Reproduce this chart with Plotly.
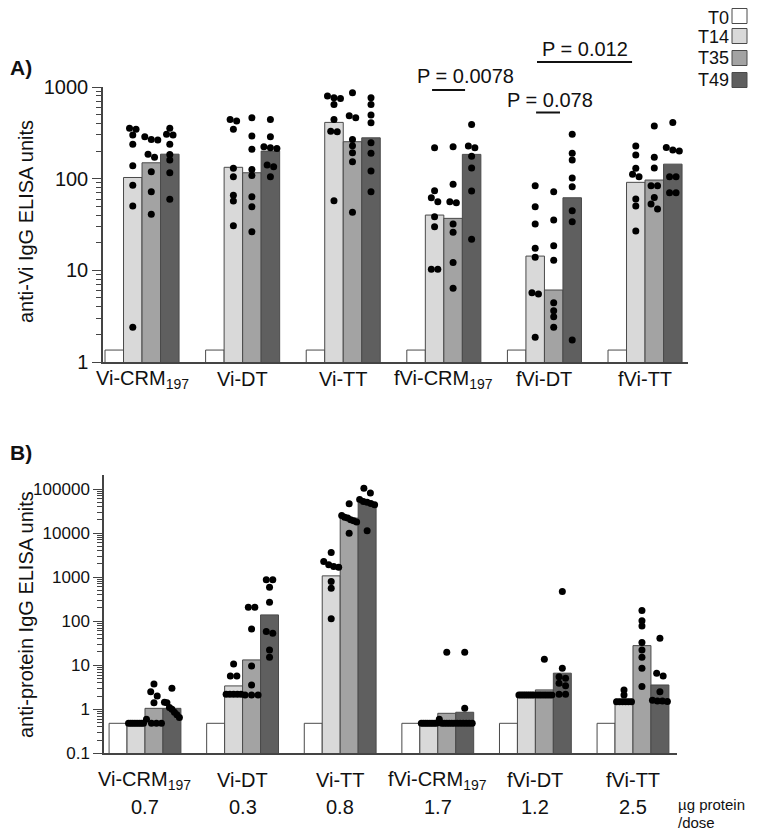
import numpy as np
import plotly.graph_objects as go

# ---------------- data ----------------
categories = ["Vi-CRM<sub>197</sub>", "Vi-DT", "Vi-TT", "fVi-CRM<sub>197</sub>", "fVi-DT", "fVi-TT"]
timepoints = ["T0", "T14", "T35", "T49"]
dose_labels = ["0.7", "0.3", "0.8", "1.7", "1.2", "2.5"]

# Panel A: anti-Vi IgG geometric means (bars)
a_t0 = [1.35, 1.35, 1.35, 1.35, 1.35, 1.35]
a_t14 = [103, 133, 411, 40.1, 14.3, 91.2]
a_t35 = [149, 116, 253, 36.9, 6.1, 96.6]
a_t49 = [185, 200, 279, 184, 61.9, 144]

# Panel A: individual animals
a_t14_pts = [
    [345, 299, 354, 237, 138, 84.5, 50.3, 2.39],
    [443, 425, 347, 130, 105, 66, 57, 30.6],
    [762, 796, 751, 646, 443, 330, 325, 57.5],
    [217, 73.8, 61.9, 56, 38.4, 29.9, 10.3, 10.3],
    [83.7, 49.4, 32, 17.4, 13.9, 5.7, 5.52, 1.86],
    [227, 181, 130, 112, 105, 60, 50.3, 26.8],
]
a_t35_pts = [
    [286, 264, 268, 185, 171, 119, 72, 40.8],
    [461, 292, 210, 126, 108, 63.5, 49.4, 26.4],
    [864, 461, 485, 268, 228, 192, 153, 42.9],
    [223, 54.6, 56, 86.7, 32, 26, 12.2, 6.36],
    [72, 35.4, 18.5, 12.9, 4.43, 3.63, 3.12, 2.39],
    [375, 171, 131, 83.7, 83.7, 62.5, 52.8, 46.6],
]
a_t49_pts = [
    [354, 299, 306, 237, 184, 160, 116, 59.5],
    [443, 286, 223, 214, 217, 141, 135, 105],
    [762, 646, 494, 407, 246, 189, 121, 72],
    [391, 217, 227, 176, 131, 73.3, 21.9],
    [306, 189, 160, 102, 81.6, 44.7, 33.9, 1.74],
    [411, 219, 200, 205, 105, 105, 70.2, 70.2],
]

# Panel B: anti-protein IgG geometric means (bars)
b_t0 = [0.48, 0.48, 0.48, 0.48, 0.48, 0.48]
b_t14 = [0.48, 3.39, 1070, 0.48, 2.11, 1.69]
b_t35 = [1.05, 13.2, 21900, 0.81, 2.75, 27.9]
b_t49 = [1.05, 139, 48100, 0.855, 6.6, 3.56]

# Panel B: individual animals
b_t14_pts = [
    [0.48, 0.48, 0.48, 0.48, 0.48, 0.48, 0.48, 0.48],
    [10.7, 5.7, 5.7, 2.19, 2.19, 2.19, 2.19, 2.19],
    [3620, 1905, 1690, 1740, 2260, 794, 562, 113],
    [0.48, 0.48, 0.48, 0.48, 0.48, 0.48, 0.48, 0.48],
    [2.11, 2.11, 2.11, 2.11, 2.11, 2.11, 2.11, 2.11],
    [2.75, 2.11, 1.49, 1.49, 1.49, 1.49, 1.49, 1.49],
]
b_t35_pts = [
    [3.76, 2.51, 2.0, 1.41, 0.59, 0.48, 0.48, 0.48],
    [208, 208, 66.8, 9.6, 3.56, 2.11, 2.11, 2.11],
    [46300, 25000, 23000, 22000, 20000, 19000, 18000, 10000],
    [19.7, 0.59, 0.48, 0.48, 0.48, 0.48, 0.48, 0.48],
    [13.7, 2.11, 2.11, 2.11, 2.11, 2.11, 2.11, 2.11],
    [174, 102, 78, 32.7, 22.3, 15.2, 8.55, 3.27],
]
b_t49_pts = [
    [3.0, 1.45, 1.4, 1.1, 1.0, 0.85, 0.75, 0.65],
    [869, 869, 593, 270, 53, 58, 22.3, 15.2],
    [105000, 82000, 58000, 52000, 50000, 47000, 44000, 11300],
    [19.7, 1.05, 0.48, 0.48, 0.48, 0.48, 0.48, 0.48],
    [471, 8.55, 5.5, 5.07, 3.9, 3.4, 2.19, 2.19],
    [41, 6.6, 5.7, 2.5, 1.6, 1.55, 1.55, 1.5],
]

p_labels = ["P = 0.0078", "P = 0.078", "P = 0.012"]

# ---------------- style / layout geometry ----------------
# the page body has an 8px margin: the figure is sized so it ends exactly at the window edge
OFF = 8
W, H = 758 - OFF, 832 - OFF
FONT = "Liberation Sans, Arial, sans-serif"
bar_colors = ["#ffffff", "#d9d9d9", "#a3a3a3", "#5f5f5f"]
edge = "#4a4a4a"
axis_col = "#444444"
BW = 0.184  # bar width in category units


def px(x):
    """screen x pixel -> paper fraction"""
    return (x - OFF) / W


def py(y):
    """screen y pixel -> paper fraction"""
    return 1 - (y - OFF) / H


# panel pixel geometry on screen (x0, x1, y_top, y_bottom) and axis ranges
A_dom = (103, 688, 87, 362)
A_xr = [-0.388, 5.427]
A_yr = [0, 3]
B_dom = (104, 677, 475, 753.3)
B_xr = [-0.42, 5.451]
B_yr = [-1, 5.32]

fig = go.Figure()


def jitter(values, ppu_x, ppd_y):
    """Deterministic side-by-side spreading of dots with similar values (pixel based)."""
    ypx = np.log10(np.array(values, dtype=float)) * ppd_y
    order = np.argsort(-ypx)
    offs = np.zeros(len(values))
    clusters = []
    cur = [order[0]]
    for k in order[1:]:
        if abs(ypx[k] - ypx[cur[-1]]) < 5.0:
            cur.append(k)
        else:
            clusters.append(cur)
            cur = [k]
    clusters.append(cur)
    bar_px = BW * ppu_x
    for c in clusters:
        n = len(c)
        if n == 1:
            continue
        s = min(6.5, (bar_px - 3) / (n - 1))
        for j, k in enumerate(c):
            offs[k] = (j - (n - 1) / 2) * s / ppu_x
    return offs


def add_panel(bars, pts, xaxis, yaxis, dom, xr, yr):
    ppu_x = (dom[1] - dom[0]) / (xr[1] - xr[0])
    ppd_y = (dom[3] - dom[2]) / (yr[1] - yr[0])
    for k, (tp, vals) in enumerate(zip(timepoints, bars)):
        xs = [i + (k - 1.5) * BW for i in range(len(categories))]
        fig.add_trace(go.Bar(
            x=xs, y=vals, width=BW, name=tp, showlegend=False,
            marker=dict(color=bar_colors[k], line=dict(color=edge, width=1)),
            xaxis=xaxis, yaxis=yaxis,
        ))
    for k, series in enumerate(pts, start=1):
        xs, ys = [], []
        for i, vals in enumerate(series):
            offs = jitter(vals, ppu_x, ppd_y)
            for v, o in zip(vals, offs):
                xs.append(i + (k - 1.5) * BW + o)
                ys.append(v)
        fig.add_trace(go.Scatter(
            x=xs, y=ys, mode="markers", showlegend=False,
            marker=dict(color="black", size=7, line=dict(width=0)),
            xaxis=xaxis, yaxis=yaxis,
        ))


add_panel([a_t0, a_t14, a_t35, a_t49], [a_t14_pts, a_t35_pts, a_t49_pts], "x", "y", A_dom, A_xr, A_yr)
add_panel([b_t0, b_t14, b_t35, b_t49], [b_t14_pts, b_t35_pts, b_t49_pts], "x2", "y2", B_dom, B_xr, B_yr)


def minor_vals(lo, hi):
    out = []
    for e in range(lo, hi):
        for m in range(2, 10):
            out.append(m * 10.0 ** e)
    return out


def yaxis_cfg(dom, yr, tickvals, ticktext, minor, fsize, xanchor):
    return dict(
        type="log", range=yr, domain=[py(dom[3]), py(dom[2])], anchor=xanchor,
        showline=True, linecolor=axis_col, linewidth=1.5,
        ticks="outside", ticklen=9, tickwidth=1.3, tickcolor=axis_col,
        tickmode="array", tickvals=tickvals, ticktext=ticktext,
        tickfont=dict(family=FONT, size=fsize, color="#111"),
        minor=dict(ticks="outside", ticklen=5, tickwidth=1, tickcolor=axis_col,
                   tickmode="array", tickvals=minor, showgrid=False),
        showgrid=False, zeroline=False, fixedrange=True,
    )


def xaxis_cfg(dom, xr, yanchor):
    return dict(
        domain=[px(dom[0]), px(dom[1])], range=xr, anchor=yanchor,
        showline=True, linecolor=axis_col, linewidth=1.5,
        ticks="", showticklabels=False, showgrid=False, zeroline=False,
    )


fig.update_layout(
    width=W, height=H, margin=dict(l=0, r=0, t=0, b=0, pad=0, autoexpand=False),
    paper_bgcolor="white", plot_bgcolor="white",
    barmode="overlay", showlegend=False,
    font=dict(family=FONT, size=20, color="#111"),
    xaxis=xaxis_cfg(A_dom, A_xr, "y"),
    yaxis=yaxis_cfg(A_dom, A_yr, [1, 10, 100, 1000], ["1", "10", "100", "1000"],
                    minor_vals(0, 3), 20, "x"),
    xaxis2=xaxis_cfg(B_dom, B_xr, "y2"),
    yaxis2=yaxis_cfg(B_dom, B_yr, [0.1, 1, 10, 100, 1000, 10000, 100000],
                     ["0.1", "1", "10", "100", "1000", "10000", "100000"],
                     minor_vals(-1, 5), 17, "x2"),
)


def note(text, x, y, xref="paper", xa="center", ya="middle", size=20, angle=0):
    return dict(text=text, x=x, y=y, xref=xref, yref="paper", xanchor=xa, yanchor=ya,
                showarrow=False, textangle=angle, borderpad=0,
                font=dict(size=size, family=FONT, color="#111"))


ann = []
ann.append(note("<b>A)</b>", px(9), py(68), xa="left", size=21))
ann.append(note("<b>B)</b>", px(9), py(452), xa="left", size=21))
ann.append(note("anti-Vi IgG ELISA units", px(26), py(222), angle=-90))
ann.append(note("anti-protein IgG ELISA units", px(26), py(615), angle=-90))
for i, c in enumerate(categories):
    ann.append(note(c, i, py(379), xref="x"))
    ann.append(note(c, i, py(780), xref="x2"))
    ann.append(note(dose_labels[i], i, py(807), xref="x2"))
ann.append(note("µg protein", px(677), py(804), xa="left", size=15))
ann.append(note("/dose", px(677), py(822), xa="left", size=15))

leg_y = [18, 37, 58, 80]
for k, tp in enumerate(timepoints):
    ann.append(note(tp, px(730), py(leg_y[k]), xa="right", size=18))

# P-value annotations: text centre (x in panel-A data units), text y px; bracket x0, x1, y px
p_specs = [
    (3.22, 76, 2.883, 3.211, 90),
    (4.06, 100, 3.917, 4.155, 112.5),
    (4.40, 49, 3.926, 4.871, 62),
]
shapes = []
for lab, (tx, ty, lx0, lx1, ly) in zip(p_labels, p_specs):
    ann.append(note(lab, tx, py(ty), xref="x"))
    shapes.append(dict(type="line", xref="x", yref="paper", x0=lx0, x1=lx1, y0=py(ly), y1=py(ly),
                       line=dict(color="#111", width=2)))

sq_y = [16, 36, 58, 80]
for k in range(4):
    yc = sq_y[k]
    shapes.append(dict(type="rect", xref="paper", yref="paper",
                       x0=px(732), x1=px(747), y0=py(yc + 7.5), y1=py(yc - 7.5),
                       fillcolor=bar_colors[k], line=dict(color=edge, width=1)))

fig.update_layout(annotations=ann, shapes=shapes)
fig.write_html("out.html")
